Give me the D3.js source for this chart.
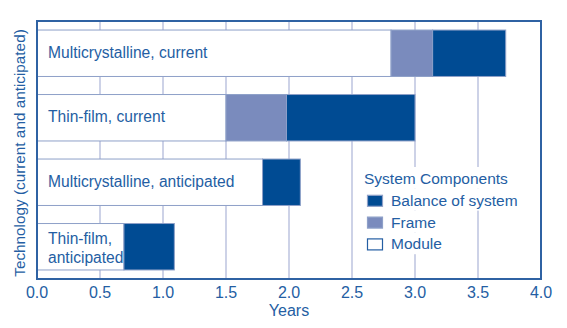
<!DOCTYPE html>
<html lang="en">
<head>
    <meta charset="UTF-8" />
    <title>Payback time by technology</title>
    <script src="https://cdn.jsdelivr.net/npm/d3@7"></script>
    <style>
        body { margin: 0; background: #fff; }
        text { font-family: "Liberation Sans", Arial, sans-serif; fill: #245ea3; }
        .grid { stroke: #bcc3df; stroke-width: 1.5; }
        .frame-box { fill: none; stroke: #2f62a3; stroke-width: 2; }
    </style>
</head>
<body>
    <div id="chart"></div>

    <script>
        const width = 567, height = 328;
        const margin = { top: 21, right: 26, bottom: 50, left: 37 };

        // technologies, one bar each (\n = line break in the label)
        const technologies = [
            "Multicrystalline, current",
            "Thin-film, current",
            "Multicrystalline, anticipated",
            "Thin-film,\nanticipated"
        ];
        // years per component
        const moduleYears  = [2.81, 1.5, 1.79, 0.69];
        const frameYears   = [0.33, 0.48, 0, 0];
        const balanceYears = [0.58, 1.02, 0.3, 0.4];

        const xTicks = [0, 0.5, 1, 1.5, 2, 2.5, 3, 3.5, 4];
        const legendNames = ["Balance of system", "Frame", "Module"];

        const colors = { module: "#ffffff", frame: "#7a8bbd", balance: "#004b93" };

        const rows = technologies.map((t, i) => ({
            tech: t,
            module: moduleYears[i],
            frame: frameYears[i],
            balance: balanceYears[i]
        }));

        const svg = d3.select("#chart")
            .append("svg")
            .attr("width", width)
            .attr("height", height);

        const plotTop = margin.top, plotBottom = height - margin.bottom + 1;

        const x = d3.scaleLinear()
            .domain([0, 4])
            .range([margin.left, width - margin.right]);

        const y = d3.scaleBand()
            .domain(technologies)
            .range([plotTop, plotBottom])
            .paddingInner(0.28)
            .paddingOuter(0.14);

        // vertical grid lines
        svg.append("g")
            .selectAll("line")
            .data(xTicks.slice(1, -1))
            .join("line")
            .attr("class", "grid")
            .attr("x1", d => x(d)).attr("x2", d => x(d))
            .attr("y1", plotTop).attr("y2", plotBottom);

        // stacked bars
        const stack = d3.stack().keys(["module", "frame", "balance"]);
        const series = stack(rows);

        svg.append("g")
            .selectAll("g")
            .data(series)
            .join("g")
            .attr("fill", s => colors[s.key])
            .selectAll("rect")
            .data(s => s.filter(d => d[1] > d[0]))
            .join("rect")
            .attr("x", d => x(d[0]))
            .attr("y", d => y(d.data.tech))
            .attr("width", d => x(d[1]) - x(d[0]))
            .attr("height", y.bandwidth())
            .attr("stroke", "#8ea0c8")
            .attr("stroke-width", 1);

        // bar labels
        svg.append("g")
            .selectAll("text")
            .data(technologies)
            .join("text")
            .attr("x", margin.left + 11)
            .attr("y", d => y(d) + y.bandwidth() / 2 + 4.5)
            .attr("font-size", 15.6)
            .each(function (d) {
                const lines = d.split("\n");
                const el = d3.select(this);
                lines.forEach((l, i) => {
                    el.append("tspan")
                        .attr("x", margin.left + 11)
                        .attr("dy", i === 0 ? (lines.length > 1 ? -7 : 0) : 18.5)
                        .text(l);
                });
            });

        // legend
        const legend = svg.append("g").attr("transform", "translate(364,184)");
        const legendKeys = ["balance", "frame", "module"];
        const legendRows = [{ name: "System Components", key: null }]
            .concat(legendNames.map((n, i) => ({ name: n, key: legendKeys[i] })));

        legendRows.forEach((r, i) => {
            const g = legend.append("g").attr("transform", `translate(0,${i * 21.8})`);
            const bg = g.append("rect").attr("fill", "#fff");
            const t = g.append("text")
                .attr("x", r.key ? 27 : 0)
                .attr("font-size", 15.5)
                .text(r.name);
            if (r.key) {
                g.append("rect")
                    .attr("x", 3.5).attr("y", -10.5)
                    .attr("width", 15).attr("height", 11)
                    .attr("fill", colors[r.key])
                    .attr("stroke", r.key === "module" ? "#245ea3" : "#8ea0c8")
                    .attr("stroke-width", 1.2);
            }
            const w = t.node().getBBox().width + (r.key ? 27 : 0);
            bg.attr("x", -4).attr("y", -17).attr("width", w + 8).attr("height", 21.8);
        });

        // plot border
        svg.append("rect")
            .attr("class", "frame-box")
            .attr("x", margin.left).attr("y", plotTop)
            .attr("width", x(4) - x(0)).attr("height", plotBottom - plotTop);

        // x tick labels
        svg.append("g")
            .selectAll("text")
            .data(xTicks)
            .join("text")
            .attr("x", d => x(d))
            .attr("y", 298)
            .attr("text-anchor", "middle")
            .attr("font-size", 16)
            .text(d3.format(".1f"));

        svg.append("text")
            .attr("x", (x(0) + x(4)) / 2)
            .attr("y", 316)
            .attr("text-anchor", "middle")
            .attr("font-size", 16)
            .text("Years");

        svg.append("text")
            .attr("transform", `translate(25,${(plotTop + plotBottom) / 2 + 3}) rotate(-90)`)
            .attr("text-anchor", "middle")
            .attr("font-size", 15.3)
            .text("Technology (current and anticipated)");
    </script>
</body>
</html>
